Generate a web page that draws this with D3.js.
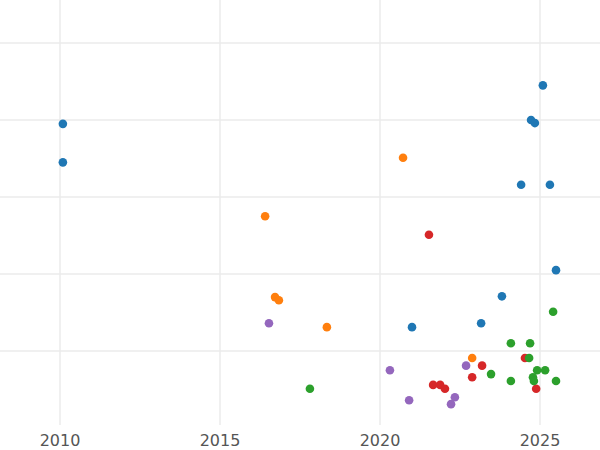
<!DOCTYPE html><html><head><meta charset="utf-8"><script src="https://cdn.jsdelivr.net/npm/d3@7"></script>
<style>body{margin:0;background:#fff}</style></head><body><svg id="c" width="600" height="450"></svg><script>
const seriesNames=["A","B","C","D","E"];
const colors=["#1f77b4","#ff7f0e","#d62728","#9467bd","#2ca02c"];
const xA=[2010.09,2010.09,2025.09,2024.72,2024.84,2024.41,2025.31,2025.5,2023.81,2023.16,2021.0];
const yA=[3.95,3.45,4.45,4.0,3.96,3.16,3.16,2.05,1.71,1.36,1.31];
const xB=[2016.41,2020.72,2016.72,2016.84,2018.34,2022.88];
const yB=[2.75,3.51,1.70,1.66,1.31,0.91];
const xC=[2021.53,2023.19,2022.88,2021.66,2021.88,2022.03,2024.88,2024.53];
const yC=[2.51,0.81,0.66,0.56,0.56,0.51,0.51,0.91];
const xD=[2016.53,2020.31,2020.91,2022.69,2022.34,2022.22];
const yD=[1.36,0.75,0.36,0.81,0.40,0.31];
const xE=[2017.81,2025.41,2024.09,2024.69,2024.66,2023.47,2024.91,2025.16,2024.78,2024.81,2024.09,2025.5];
const yE=[0.51,1.51,1.10,1.10,0.91,0.70,0.75,0.75,0.66,0.61,0.61,0.61];
const xTicks=[2010,2015,2020,2025];
const yGrid=[1,2,3,4,5];
const xs=[xA,xB,xC,xD,xE], ys=[yA,yB,yC,yD,yE];
const svg=d3.select("#c");
const x=d3.scaleLinear().domain([2010,2025]).range([60,540]);
const y=d3.scaleLinear().domain([0,1]).range([428,351]);
svg.selectAll(".hg").data(yGrid).join("line").attr("x1",0).attr("x2",600).attr("y1",d=>y(d)).attr("y2",d=>y(d)).attr("stroke","#ebebeb").attr("stroke-width",1.5);
svg.selectAll(".vg").data(xTicks).join("line").attr("x1",d=>x(d)).attr("x2",d=>x(d)).attr("y1",0).attr("y2",425).attr("stroke","#ebebeb").attr("stroke-width",1.5);
svg.selectAll(".tl").data(xTicks).join("text").attr("x",d=>x(d)).attr("y",446).attr("text-anchor","middle").attr("font-family","DejaVu Sans").attr("font-size",16).attr("fill","#555").text(d=>d);
xs.forEach((xv,i)=>{
  svg.append("g").selectAll("circle").data(xv.map((v,j)=>[v,ys[i][j]])).join("circle")
   .attr("cx",d=>x(d[0])).attr("cy",d=>y(d[1])).attr("r",4.3).attr("fill",colors[i]);
});
</script></body></html>
